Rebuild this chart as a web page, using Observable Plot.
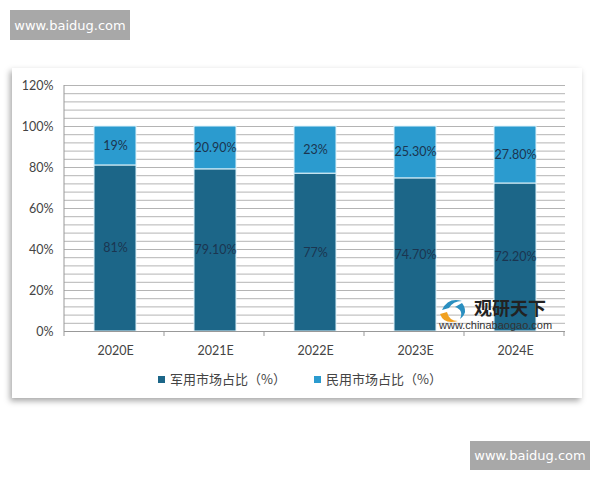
<!DOCTYPE html>
<html>
<head>
<meta charset="utf-8">
<script src="https://cdn.jsdelivr.net/npm/d3@7"></script>
<script src="https://cdn.jsdelivr.net/npm/@observablehq/plot@0.6"></script>
<style>
  html, body { margin: 0; padding: 0; background: #fff; }
  #wrap { position: relative; width: 600px; height: 480px; overflow: hidden; font-family: Lato, "Noto Sans CJK SC", sans-serif; }
  #panel { position: absolute; left: 12px; top: 68px; width: 570px; height: 330px; background: #fff;
           box-shadow: -2px 3px 6px rgba(0,0,0,0.35); }
  #chart { position: absolute; left: 0; top: 0; }
  .wm { position: absolute; background: #a8a8a8; color: #fff; font-family: "DejaVu Sans", sans-serif; font-size: 13px;
        display: flex; align-items: center; justify-content: center; }
  #legend { position: absolute; top: 369px; left: 0; width: 600px; display: flex; justify-content: center; gap: 28px;
            font-family: "Noto Sans CJK SC", sans-serif; font-size: 13px; color: #444; }
  #legend span.sw { display: inline-block; width: 7px; height: 7px; margin-right: 5px; vertical-align: middle; position: relative; top: -1px; }
  #logo { position: absolute; left: 438px; top: 294px; width: 122px; height: 40px; }
</style>
</head>
<body>
<div id="wrap">
  <div class="wm" style="left:10px;top:10px;width:120px;height:30px;">www.baidug.com</div>
  <div id="panel"></div>
  <div id="chart"></div>
  <div id="logo">
    <svg width="122" height="40">
      <path d="M4 16 Q10 3 24 7 Q15 7 11 14 Z" fill="#2a8fc0"/>
      <path d="M24 9 Q31 18 22 25 Q26 16 17 13 Z" fill="#2a8fc0"/>
      <path d="M2 20 Q6 31 20 27 Q11 27 9 18 Z" fill="#f0a020"/>
      <text x="36" y="21" font-family="Noto Sans CJK SC" font-weight="bold" font-size="18" fill="#222">观研天下</text>
      <text x="1" y="35" font-family="Liberation Sans" font-size="11" fill="#333">www.chinabaogao.com</text>
    </svg>
  </div>
  <div id="legend">
    <div><span class="sw" style="background:#1c6688"></span>军用市场占比（%）</div>
    <div><span class="sw" style="background:#2b9bcf"></span>民用市场占比（%）</div>
  </div>
  <div class="wm" style="left:470px;top:441px;width:120px;height:29px;">www.baidug.com</div>
</div>
<script>
const years = ["2020E", "2021E", "2022E", "2023E", "2024E"];
const military = [81, 79.1, 77, 74.7, 72.2];
const civilian = [19, 20.9, 23, 25.3, 27.8];
const yTicks = [0, 20, 40, 60, 80, 100, 120];
const seriesNames = ["军用市场占比（%）", "民用市场占比（%）"];
const colors = ["#1c6688", "#2b9bcf"];

const fmt = v => (Number.isInteger(v) ? v : v.toFixed(2)) + "%";
const rows = [];
years.forEach((yr, i) => {
  rows.push({year: yr, series: seriesNames[0], y1: 0, y2: military[i], mid: military[i] / 2, label: fmt(military[i])});
  rows.push({year: yr, series: seriesNames[1], y1: military[i], y2: military[i] + civilian[i], mid: military[i] + civilian[i] / 2, label: fmt(civilian[i])});
});
const gridVals = d3.range(0, 121, 4);

const plot = Plot.plot({
  width: 600, height: 480,
  marginLeft: 64, marginRight: 35, marginTop: 85, marginBottom: 149,
  style: {background: "transparent", fontFamily: "Lato, 'Noto Sans CJK SC', sans-serif", overflow: "visible"},
  x: {domain: years, paddingInner: 0.58, paddingOuter: 0.29, label: null},
  y: {domain: [0, 120], label: null},
  color: {domain: seriesNames, range: colors},
  marks: [
    Plot.ruleY(gridVals, {stroke: "#b4b4b4", strokeWidth: 1}),
    Plot.barY(rows, {x: "year", y1: "y1", y2: "y2", fill: "series", stroke: "#dff3fb", strokeWidth: 1, ariaLabel: "bars"}),
    Plot.text(rows, {x: "year", y: "mid", text: "label", fill: "#1b3550", fontSize: 12.5}),
    Plot.axisY(yTicks, {tickFormat: d => d + "%", tickSize: 0, tickPadding: 11, fontSize: 12.5, fill: "#444"}),
    Plot.axisX({tickSize: 0, tickPadding: 15, fontSize: 12.5, fill: "#444"}),
    Plot.ruleY([0], {stroke: "#999"})
  ]
});
document.getElementById("chart").appendChild(plot);

// y axis line and band-boundary ticks, placed from the scales
const xs = plot.scale("x");
const ys = plot.scale("y");
const svg = d3.select(plot);
const g = svg.append("g").attr("stroke", "#999");
const [r0, r1] = xs.range;
const yBottom = ys.apply(0), yTop = ys.apply(120);
g.append("line").attr("x1", r0).attr("x2", r0).attr("y1", yTop).attr("y2", yBottom);
d3.range(0, years.length + 1).forEach(i => {
  const x = r0 + i * xs.step;
  g.append("line").attr("x1", x).attr("x2", x).attr("y1", yBottom).attr("y2", yBottom + 5);
});
svg.selectAll('g[aria-label="bars"] rect').style("filter", "drop-shadow(-3px 0px 2px rgba(0,0,0,0.3))");
</script>
</body>
</html>
